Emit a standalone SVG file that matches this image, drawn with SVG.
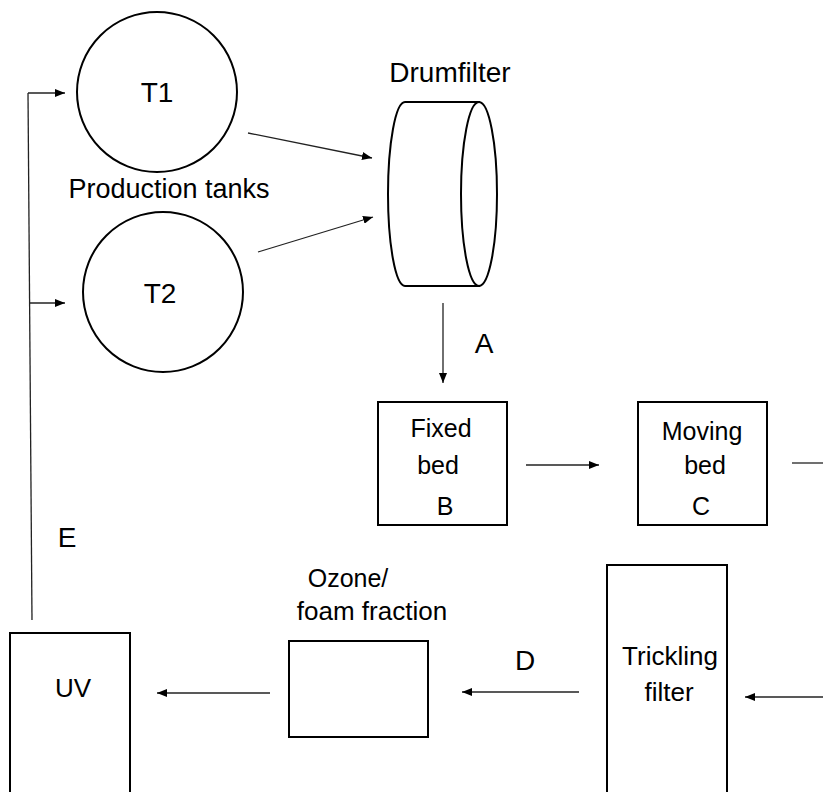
<svg xmlns="http://www.w3.org/2000/svg" width="823" height="792" viewBox="0 0 823 792">
  <defs>
    <marker id="arr" viewBox="0 0 10 8" refX="10" refY="4" markerWidth="10" markerHeight="8" markerUnits="userSpaceOnUse" orient="auto">
      <path d="M0,0 L10,4 L0,8 Z" fill="#000"/>
    </marker>
    <style>
      .shape { fill: #fff; stroke: #000; stroke-width: 2; }
      .conn { fill: none; stroke: #222; stroke-width: 1.3; }
      text { font-family: "Liberation Sans", Arial, sans-serif; fill: #000; text-anchor: middle; }
    </style>
  </defs>
  <rect x="0" y="0" width="823" height="792" fill="#fff"/>

  <g id="connectors">
    <path class="conn" d="M32,620 L28,93"/>
    <path class="conn" d="M28,93 L65,93" marker-end="url(#arr)"/>
    <path class="conn" d="M30,303 L65,303" marker-end="url(#arr)"/>
    <path class="conn" d="M248,133 L372,158" marker-end="url(#arr)"/>
    <path class="conn" d="M258,252 L373,217" marker-end="url(#arr)"/>
    <path class="conn" d="M443,303 L443,383" marker-end="url(#arr)"/>
    <path class="conn" d="M526,465 L599,465" marker-end="url(#arr)"/>
    <path class="conn" d="M792,463 L823,463"/>
    <path class="conn" d="M823,697 L745,697" marker-end="url(#arr)"/>
    <path class="conn" d="M579,692 L462,692" marker-end="url(#arr)"/>
    <path class="conn" d="M270,693 L157,693" marker-end="url(#arr)"/>
    <text x="484" y="353" font-size="28">A</text>
    <text x="67" y="547" font-size="28">E</text>
    <text x="525" y="670" font-size="28">D</text>
  </g>

  <g id="t1">
    <circle class="shape" cx="157" cy="92" r="80"/>
    <text x="157" y="102" font-size="28">T1</text>
  </g>
  <g id="t2">
    <circle class="shape" cx="163" cy="292" r="80"/>
    <text x="160" y="303" font-size="28">T2</text>
  </g>
  <g id="production-tanks-label">
    <text x="169" y="198" font-size="27">Production tanks</text>
  </g>

  <g id="drumfilter">
    <path class="shape" d="M480,102 L405,102 A17,92 0 0 0 405,286 L480,286"/>
    <ellipse class="shape" cx="479" cy="194" rx="18" ry="92"/>
    <text x="450" y="82" font-size="28">Drumfilter</text>
  </g>

  <g id="fixed-bed">
    <rect class="shape" x="378" y="402" width="129" height="123"/>
    <text x="441" y="437" font-size="25">Fixed</text>
    <text x="438" y="474" font-size="25">bed</text>
    <text x="445" y="515" font-size="25">B</text>
  </g>

  <g id="moving-bed">
    <rect class="shape" x="638" y="402" width="129" height="123"/>
    <text x="702" y="440" font-size="25">Moving</text>
    <text x="705" y="474" font-size="25">bed</text>
    <text x="701" y="515" font-size="25">C</text>
  </g>

  <g id="trickling-filter">
    <rect class="shape" x="607" y="565" width="120" height="240"/>
    <text x="670" y="665" font-size="26">Trickling</text>
    <text x="669" y="701" font-size="26">filter</text>
  </g>

  <g id="ozone">
    <rect class="shape" x="289" y="641" width="139" height="96"/>
    <text x="348" y="587" font-size="25">Ozone/</text>
    <text x="372" y="620" font-size="26">foam fraction</text>
  </g>

  <g id="uv">
    <rect class="shape" x="10" y="633" width="120" height="170"/>
    <text x="73" y="697" font-size="26">UV</text>
  </g>
</svg>
